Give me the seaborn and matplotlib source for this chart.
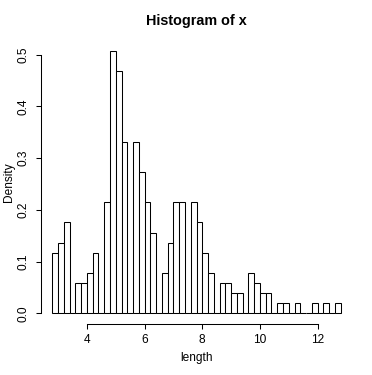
import numpy as np
import pandas as pd
import seaborn as sns
import matplotlib.pyplot as plt

# histogram bins (width 0.2, from 2.8 to 12.8) and counts
bin_edges = [round(2.8 + 0.2 * i, 1) for i in range(51)]
counts = [6, 7, 9, 0, 3, 3, 4, 6, 0, 11,
          26, 24, 17, 0, 17, 14, 11, 8, 0, 4,
          7, 11, 11, 0, 11, 9, 6, 4, 0, 3,
          3, 2, 2, 0, 4, 3, 2, 2, 0, 1,
          1, 0, 1, 0, 0, 1, 0, 1, 0, 1]
x_ticks = [4, 6, 8, 10, 12]
y_ticks = [0.0, 0.1, 0.2, 0.3, 0.4, 0.5]

mids = [round((a + b) / 2, 2) for a, b in zip(bin_edges[:-1], bin_edges[1:])]
df = pd.DataFrame({"length": mids, "n": counts})

sns.set_style("ticks")
plt.rcParams["font.family"] = ["Liberation Sans", "DejaVu Sans"]
plt.rcParams.update({"text.color": "black", "axes.labelcolor": "black",
                     "xtick.color": "black", "ytick.color": "black",
                     "axes.edgecolor": "black"})

fig = plt.figure(figsize=(3.72, 3.75), dpi=100)
ax = fig.add_axes([0.1097, 0.1365, 0.8371, 0.756])

sns.histplot(data=df, x="length", weights="n", bins=bin_edges, stat="density",
             color="white", edgecolor="black", linewidth=0.75, alpha=1, ax=ax)

ax.set_xlim(2.4, 13.2)
ax.set_ylim(-0.0203, 0.528)
ax.set_xticks(x_ticks)
ax.set_xticklabels([str(t) for t in x_ticks])
ax.set_yticks(y_ticks)
ax.set_yticklabels([f"{t:.1f}" for t in y_ticks], rotation=90, va="center")
ax.tick_params(axis="both", direction="out", length=3.6, width=0.75,
               color="black", labelcolor="black", labelsize=8.6, pad=3.6)
ax.tick_params(axis="y", pad=4.3)

for s in ["top", "right"]:
    ax.spines[s].set_visible(False)
ax.spines["left"].set_bounds(0, 0.5)
ax.spines["bottom"].set_bounds(4, 12)
ax.spines["left"].set_linewidth(0.75)
ax.spines["bottom"].set_linewidth(0.75)
ax.set_xlabel("")
ax.set_ylabel("")

fig.text(196.5 / 372, 1 - 358 / 375, "length", ha="center", va="center",
         fontsize=8.6, color="black")
fig.text(9 / 372, 1 - 182 / 375, "Density", ha="center", va="center",
         rotation=90, fontsize=8.6, color="black")
fig.text(196.5 / 372, 1 - 21.5 / 375, "Histogram of x", ha="center", va="center",
         fontsize=10.4, fontweight="bold", color="black")

fig.savefig("out.png", dpi=100)
